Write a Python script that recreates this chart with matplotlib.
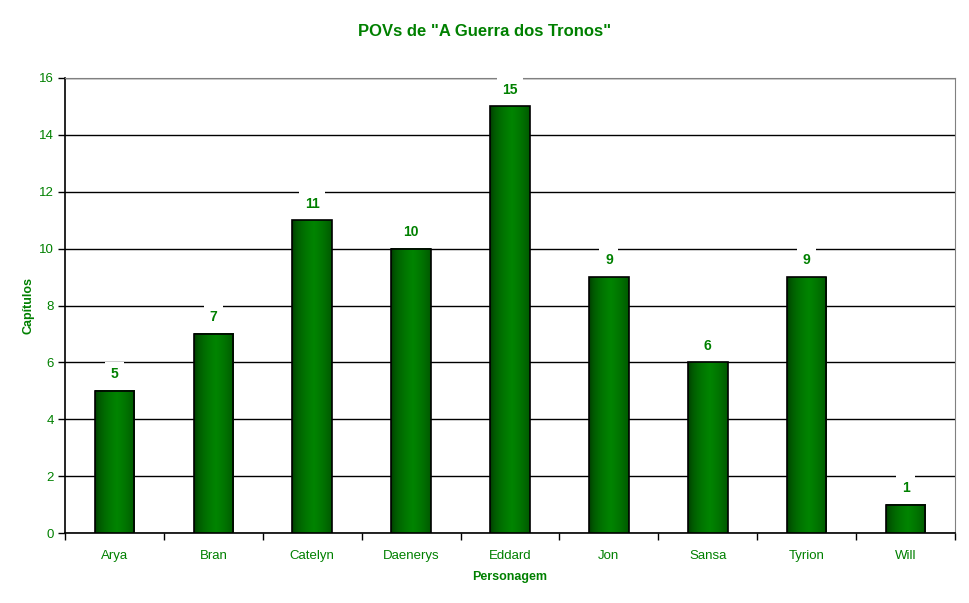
import numpy as np
import matplotlib
matplotlib.use("Agg")
import matplotlib.pyplot as plt

personagens = ["Arya", "Bran", "Catelyn", "Daenerys", "Eddard", "Jon", "Sansa", "Tyrion", "Will"]
capitulos = [5, 7, 11, 10, 15, 9, 6, 9, 1]

verde = "#008000"
plt.rcParams["font.family"] = ["Liberation Sans", "DejaVu Sans"]

fig = plt.figure(figsize=(9.7, 6.03), dpi=100)
ax = fig.add_axes([65 / 970, 70 / 603, 890 / 970, 455 / 603])

# gradiente horizontal: bordas escuras, centro claro
t = np.linspace(0, 1, 64)
g = 1 - np.abs(t - 0.55) / 0.55
g = np.clip(g, 0, 1) ** 0.4
cores = np.zeros((1, 64, 3))
cores[0, :, 1] = 0.16 + 0.36 * g

largura = 0.4
for i, v in enumerate(capitulos):
    x0, x1 = i - largura / 2, i + largura / 2
    ax.imshow(cores, extent=(x0, x1, 0, v), aspect="auto", zorder=3, interpolation="bilinear")
    ax.add_patch(plt.Rectangle((x0, 0), largura, v, fill=False, edgecolor="black", lw=1.2, zorder=4))
    ax.annotate(str(v), (i, v), xytext=(0, 12), textcoords="offset points", ha="center", va="center",
                color=verde, fontsize=10, fontweight="bold", zorder=5,
                bbox=dict(facecolor="white", edgecolor="none", pad=4))

ax.set_xlim(-0.5, len(personagens) - 0.5)
ax.set_ylim(0, 16)
ax.set_yticks(np.arange(0, 17, 2))
ax.yaxis.grid(True, color="black", lw=1)
ax.set_axisbelow(True)

ax.set_xticks(np.arange(len(personagens)))
ax.set_xticklabels(personagens)
ax.set_xticks(np.arange(-0.5, len(personagens)), minor=True)
ax.tick_params(axis="x", which="major", length=0, pad=12, labelcolor=verde, labelsize=9.5)
ax.tick_params(axis="x", which="minor", length=5, width=1, direction="out")
ax.tick_params(axis="y", length=5, width=1, direction="out", labelcolor=verde, labelsize=9.5, pad=3)

for lado in ["top", "right"]:
    ax.spines[lado].set_color("#808080")
for lado in ["left", "bottom"]:
    ax.spines[lado].set_color("black")
    ax.spines[lado].set_linewidth(1.2)

ax.set_xlabel("Personagem", color=verde, fontsize=9, fontweight="bold", labelpad=7)
ax.set_ylabel("Capítulos", color=verde, fontsize=9, fontweight="bold", labelpad=3)
fig.suptitle('POVs de "A Guerra dos Tronos"', color=verde, fontsize=12, fontweight="bold", y=0.96)

fig.savefig("out.png", dpi=100)
